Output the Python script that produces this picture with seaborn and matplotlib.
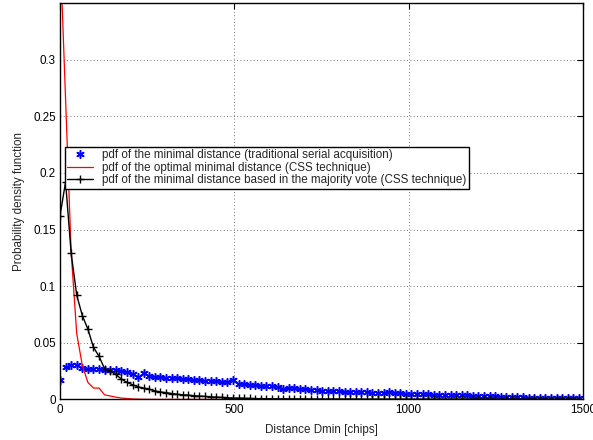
import numpy as np
import pandas as pd
import matplotlib
matplotlib.use("Agg")
import matplotlib.pyplot as plt
import seaborn as sns

sns.set_style("white")
plt.rcParams['font.family'] = ['Liberation Sans', 'DejaVu Sans']

# distance bins (chips)
dist = list(range(0, 1500, 16))  # 94 bins

serial_pdf = [0.017, 0.029, 0.030, 0.030, 0.028, 0.027, 0.027, 0.027, 0.026, 0.026,
              0.026, 0.025, 0.024, 0.022, 0.020, 0.023, 0.021, 0.020, 0.020, 0.019,
              0.019, 0.019, 0.018, 0.018, 0.017, 0.017, 0.016, 0.016, 0.016, 0.015,
              0.015, 0.017, 0.014, 0.014, 0.013, 0.013, 0.012, 0.012, 0.012, 0.011,
              0.009, 0.010, 0.010, 0.0095, 0.0095, 0.0085, 0.008, 0.0075, 0.0078, 0.0074,
              0.007, 0.0068, 0.0066, 0.0068, 0.0062, 0.0064, 0.006, 0.0058, 0.006, 0.0062,
              0.0058, 0.0055, 0.005, 0.0048, 0.0046, 0.0045, 0.0044, 0.0042, 0.0043, 0.004,
              0.0038, 0.0039, 0.0036, 0.0035, 0.0033, 0.003, 0.003, 0.0028, 0.0026, 0.0024,
              0.0024, 0.0022, 0.002, 0.0019, 0.0016, 0.0016, 0.0015, 0.0014, 0.0015, 0.0013,
              0.0012, 0.0013, 0.0012, 0.0011]

optimal_pdf = [0.40, 0.265, 0.13, 0.058, 0.030, 0.015, 0.010, 0.010, 0.004, 0.003,
               0.002, 0.0012, 0.0008, 0.0004, 0.0002, 0.0001, 0.0, 0.0, 0.0, 0.0,
               0.0, 0.0, 0.0, 0.0, 0.0, 0.0, 0.0, 0.0, 0.0, 0.0, 0.0, 0.0]

vote_pdf = [0.162, 0.192, 0.129, 0.092, 0.074, 0.062, 0.046, 0.038, 0.027, 0.025,
            0.022, 0.018, 0.015, 0.013, 0.011, 0.010, 0.009, 0.0075, 0.0065, 0.006,
            0.0052, 0.0045, 0.004, 0.0038, 0.0032, 0.003, 0.0026, 0.0022, 0.002, 0.0018,
            0.0014, 0.0012, 0.0011, 0.001, 0.0008, 0.0007, 0.0007, 0.0006, 0.0006, 0.0005,
            0.0005, 0.0005, 0.0004, 0.0004, 0.0004, 0.0004, 0.0003, 0.0003, 0.0003, 0.0003,
            0.0003, 0.0003, 0.0003, 0.0003, 0.0002, 0.0002, 0.0002, 0.0002, 0.0002, 0.0002,
            0.0002, 0.0002, 0.0002, 0.0002, 0.0002, 0.0002, 0.0002, 0.0002, 0.0002, 0.0002,
            0.0002, 0.0002, 0.0002, 0.0002, 0.0002, 0.0002, 0.0002, 0.0002, 0.0002, 0.0002,
            0.0002, 0.0002, 0.0002, 0.0002, 0.0002, 0.0002, 0.0002, 0.0002, 0.0002, 0.0002,
            0.0002, 0.0002, 0.0002, 0.0002]

labels = ["pdf of the minimal distance (traditional serial acquisition)",
          "pdf of the optimal minimal distance (CSS technique)",
          "pdf of the minimal distance based in the majority vote (CSS technique)"]

xticks = [0, 500, 1000, 1500]
yticks = [0, 0.05, 0.1, 0.15, 0.2, 0.25, 0.3]
ytick_labels = ["0", "0.05", "0.1", "0.15", "0.2", "0.25", "0.3"]

df_serial = pd.DataFrame({"d": dist, "p": serial_pdf})
df_opt = pd.DataFrame({"d": dist[:len(optimal_pdf)], "p": optimal_pdf})
df_vote = pd.DataFrame({"d": dist, "p": vote_pdf})

FS = 8.4

fig = plt.figure(figsize=(5.93, 4.40), dpi=100)
ax = fig.add_axes([60 / 593, (440 - 399.4) / 440, 523 / 593, 396.4 / 440])

sns.lineplot(data=df_serial, x="d", y="p", ax=ax, color="#0000ff", linestyle="none",
             marker=(6, 2, 0), markersize=6, markeredgewidth=1.1, markeredgecolor="#0000ff",
             label=labels[0])
sns.lineplot(data=df_opt, x="d", y="p", ax=ax, color="#ff0000", linewidth=0.9,
             label=labels[1])
sns.lineplot(data=df_vote, x="d", y="p", ax=ax, color="black", linewidth=1.0,
             marker="+", markersize=6, markeredgewidth=1.0, markeredgecolor="black",
             label=labels[2])

ax.set_xlim(0, 1500)
ax.set_ylim(0, 0.35)
ax.set_xticks(xticks)
ax.set_xticklabels([str(v) for v in xticks])
ax.set_yticks(yticks)
ax.set_yticklabels(ytick_labels)
ax.tick_params(direction="in", top=True, right=True, length=4, width=0.8,
               labelsize=FS, colors="black", pad=3)
ax.grid(True, linestyle=(0, (1, 3)), color="black", linewidth=0.6, alpha=0.7)
for s in ax.spines.values():
    s.set_visible(True)
    s.set_color("black")
    s.set_linewidth(1.0)

ax.set_xlabel("Distance Dmin [chips]", fontsize=FS, labelpad=6)
ax.set_ylabel("Probability density function", fontsize=FS, labelpad=6)

leg = ax.legend(loc="upper left", bbox_to_anchor=(0.009, 0.637), fontsize=FS,
                frameon=True, fancybox=False, framealpha=1, edgecolor="black",
                borderpad=0.2, labelspacing=0.05, handlelength=2.2, handletextpad=0.8,
                borderaxespad=0)
leg.get_frame().set_linewidth(1.0)

fig.savefig("out.png", dpi=100)
